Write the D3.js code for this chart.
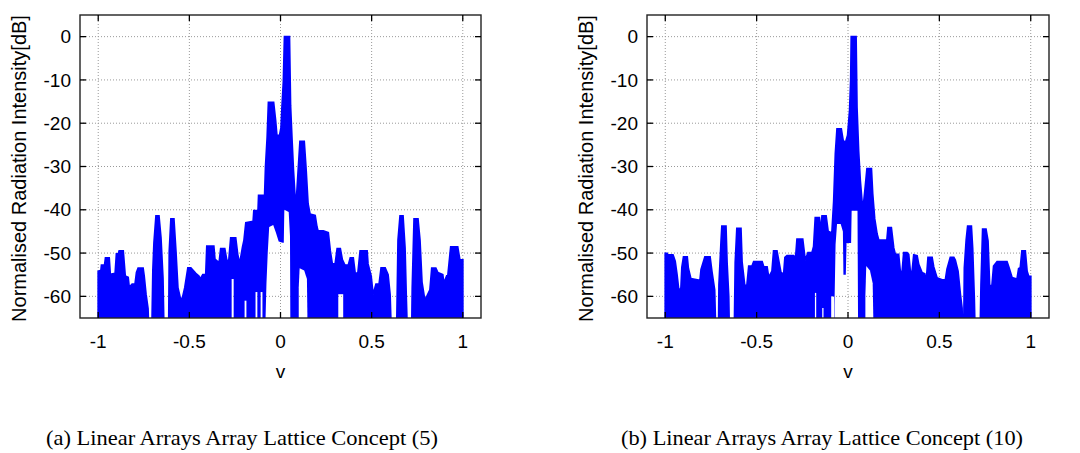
<!DOCTYPE html>
<html>
<head>
<meta charset="utf-8">
<script src="https://cdn.jsdelivr.net/npm/d3@7"></script>
<style>
  html, body { margin: 0; padding: 0; background: #fff; }
  svg { display: block; }
</style>
</head>
<body>
<div id="chart"></div>
<script>
// tick values shared by both panels
const xTicks = [-1, -0.5, 0, 0.5, 1];
const yTicks = [0, -10, -20, -30, -40, -50, -60];

// (a) concept (5): upper edge of the trace, v -> dB
const leftV = [-1.000, -0.985, -0.982, -0.965, -0.960, -0.940, -0.934, -0.907, -0.900, -0.890,
  -0.885, -0.863, -0.852, -0.836, -0.830, -0.814, -0.798, -0.790, -0.781, -0.754,
  -0.748, -0.738, -0.727, -0.720, -0.707, -0.700, -0.694, -0.683, -0.667, -0.656,
  -0.645, -0.638, -0.614, -0.610, -0.601, -0.585, -0.574, -0.563, -0.546, -0.536,
  -0.525, -0.508, -0.492, -0.475, -0.465, -0.448, -0.440, -0.426, -0.410, -0.404,
  -0.366, -0.360, -0.344, -0.336, -0.328, -0.306, -0.295, -0.284, -0.273, -0.246,
  -0.235, -0.224, -0.208, -0.200, -0.190, -0.150, -0.146, -0.123, -0.120, -0.087,
  -0.082, -0.073, -0.066, -0.038, -0.027, -0.020, -0.005, 0.003, 0.008, 0.016,
  0.022, 0.049, 0.055, 0.063, 0.071, 0.080, 0.088, 0.097, 0.107, 0.130,
  0.140, 0.151, 0.162, 0.190, 0.200, 0.206, 0.235, 0.262, 0.273, 0.284,
  0.300, 0.311, 0.328, 0.339, 0.350, 0.355, 0.372, 0.383, 0.399, 0.410,
  0.425, 0.437, 0.475, 0.480, 0.497, 0.508, 0.524, 0.541, 0.552, 0.574,
  0.590, 0.601, 0.610, 0.636, 0.640, 0.645, 0.656, 0.672, 0.683, 0.690,
  0.698, 0.719, 0.723, 0.733, 0.754, 0.765, 0.776, 0.792, 0.803, 0.820,
  0.830, 0.852, 0.863, 0.890, 0.896, 0.912, 0.918, 0.934, 0.972, 0.984,
  0.998, 1.000];
const leftPeak = [-54.2, -54, -52.8, -52.8, -51.1, -51.1, -54.9, -54.7, -50.2, -50.2,
  -49.5, -49.5, -55.3, -55.6, -57.9, -57.2, -57.2, -54.5, -53.5, -53.5,
  -55.3, -59.5, -62.8, -72, -72, -54, -47.6, -41.4, -41.4, -46.5,
  -55.8, -72, -72, -49.5, -42.1, -42.1, -49.5, -58, -61.1, -60,
  -58, -53.4, -53.4, -54.2, -54.7, -55.3, -56, -55, -55, -48.4,
  -48.4, -51.4, -52, -52, -49, -49, -51.6, -52, -46.5, -46.5,
  -50.3, -52.5, -48.6, -47, -43, -42.7, -40.2, -40.2, -36.7, -36.7,
  -30, -23.3, -15.2, -15.2, -19.4, -22.8, -22.8, -21, -16.5, -10.3,
  0, 0, -16, -23.8, -31, -37.2, -37.2, -31, -24.2, -24.2,
  -30.5, -38.6, -41, -41.3, -44, -44.9, -44.9, -45.3, -49.5, -52.5,
  -52.5, -49, -49, -51.5, -52.5, -52.8, -52.8, -51.1, -51.1, -54.8,
  -54.5, -49.5, -49.5, -52.5, -55.3, -59.6, -57.2, -57.2, -53.4, -53.4,
  -55, -59.6, -72, -72, -61, -47, -41.4, -41.4, -48.8, -60.4,
  -72, -72, -58, -42.1, -42.1, -47, -56.7, -61, -60, -58.5,
  -53.5, -53.5, -54.5, -55, -57, -55.3, -55.3, -48.6, -48.6, -51.6,
  -51.6, -51.6];
// white gaps inside the filled trace: [v, top dB, bottom dB]
const leftHoles = [
  [[-0.268, -56, -70], [-0.257, -56, -70]],
  [[-0.197, -61, -70], [-0.187, -61, -70]],
  [[-0.137, -59, -70], [-0.127, -59, -70]],
  [[-0.109, -59, -70], [-0.099, -59, -70]],
  [[-0.082, -65, -70], [-0.077, -57, -70], [-0.070, -50, -70], [-0.062, -44, -70], [-0.040, -43.5, -70],
   [-0.025, -45.3, -70], [-0.010, -47.3, -70], [0.012, -47.6, -70], [0.018, -47.6, -70], [0.021, -40, -70],
   [0.045, -40.5, -70], [0.052, -46, -70], [0.054, -66, -70]],
  [[0.100, -58, -70], [0.105, -53.5, -70], [0.130, -54, -70], [0.145, -56, -70], [0.148, -66, -70]],
  [[0.317, -59.5, -70], [0.344, -59.5, -70]]
];

// (b) concept (10)
const rightV = [-1.000, -0.990, -0.985, -0.980, -0.958, -0.946, -0.936, -0.925, -0.914, -0.909,
  -0.900, -0.880, -0.874, -0.860, -0.810, -0.804, -0.783, -0.755, -0.745, -0.730,
  -0.722, -0.709, -0.706, -0.695, -0.690, -0.668, -0.662, -0.653, -0.648, -0.623,
  -0.617, -0.608, -0.586, -0.580, -0.565, -0.553, -0.543, -0.525, -0.516, -0.470,
  -0.461, -0.443, -0.434, -0.416, -0.407, -0.389, -0.379, -0.367, -0.352, -0.345,
  -0.334, -0.297, -0.288, -0.279, -0.248, -0.234, -0.219, -0.197, -0.188, -0.179,
  -0.157, -0.152, -0.142, -0.120, -0.109, -0.088, -0.078, -0.069, -0.060, -0.037,
  -0.027, -0.015, -0.002, 0.009, 0.015, 0.018, 0.044, 0.049, 0.058, 0.067,
  0.077, 0.086, 0.095, 0.104, 0.128, 0.135, 0.146, 0.159, 0.168, 0.213,
  0.219, 0.237, 0.250, 0.259, 0.277, 0.286, 0.296, 0.305, 0.323, 0.332,
  0.341, 0.350, 0.360, 0.378, 0.387, 0.405, 0.420, 0.427, 0.438, 0.460,
  0.469, 0.487, 0.515, 0.533, 0.542, 0.560, 0.579, 0.587, 0.602, 0.615,
  0.624, 0.629, 0.633, 0.637, 0.647, 0.655, 0.675, 0.682, 0.691, 0.697,
  0.722, 0.728, 0.737, 0.755, 0.766, 0.775, 0.788, 0.797, 0.816, 0.870,
  0.880, 0.898, 0.925, 0.934, 0.943, 0.952, 0.970, 0.980, 0.989, 1.000];
const rightPeak = [-50.1, -50.1, -54.2, -50.4, -50.4, -51.9, -54.9, -59, -58, -53.3,
  -50.9, -50.9, -53.5, -55.9, -56.3, -53.8, -50.9, -50.9, -54.2, -58.5,
  -72, -72, -57.4, -47.6, -43.8, -43.8, -52.2, -59.9, -72, -72,
  -52.2, -44.3, -44.3, -52, -57.6, -57.4, -53, -53, -52, -52,
  -53.2, -53.2, -55.6, -54.2, -49.5, -49.5, -51.8, -54.5, -54.9, -51,
  -50.6, -50.6, -51.8, -46.8, -46.8, -51.7, -49.9, -49.9, -48.5, -41.8,
  -41.8, -45.3, -41.4, -41.4, -45, -45.4, -37.9, -27, -21.3, -21.3,
  -23.9, -24.7, -22.8, -17, -10, 0, 0, -16.3, -26.4, -33.2,
  -38.3, -38.3, -34.5, -30.5, -30.5, -36.3, -42.1, -45.6, -47, -47,
  -44.1, -44.1, -48.8, -50.3, -50.3, -54.2, -54.5, -49.9, -49.9, -50.3,
  -54.2, -54.6, -50.4, -50.6, -52.6, -54.5, -54.8, -57.4, -51, -51,
  -53.2, -55.7, -56.2, -56.2, -53.7, -51, -51, -51.6, -54.2, -59.6,
  -62.7, -72, -72, -53.4, -47, -43.8, -43.8, -48.9, -60.5, -72,
  -72, -57.4, -44.5, -44.5, -47.2, -57.5, -57.5, -53, -52, -52,
  -53.2, -55.7, -56, -53.6, -53.4, -49.5, -49.5, -54.2, -55.4, -55.4];
const rightHoles = [
  [[-0.181, -59.2, -70], [-0.174, -59.2, -70]],
  [[-0.141, -62.7, -70], [-0.134, -62.7, -70]],
  [[-0.092, -60, -70], [-0.076, -60, -70]],
  [[-0.074, -62, -70], [-0.068, -48, -70], [-0.060, -43.3, -70], [-0.040, -43.3, -70], [-0.028, -45, -70],
   [-0.025, -55, -70], [-0.012, -55, -70], [-0.008, -47.7, -70], [0.012, -47.7, -70], [0.017, -47.7, -70],
   [0.020, -40.2, -70], [0.052, -40.2, -70], [0.055, -66, -70]],
  [[0.095, -60, -70], [0.100, -53, -70], [0.120, -54, -70], [0.135, -57, -70], [0.139, -66, -70]]
];

const captions = ["(a) Linear Arrays Array Lattice Concept (5)", "(b) Linear Arrays Array Lattice Concept (10)"];
const yTitle = "Normalised Radiation Intensity[dB]";
const xTitle = "v";

const W = 1080, H = 453;
const svg = d3.select("#chart").append("svg")
  .attr("width", W).attr("height", H);

const panels = [
  { id: "a", left: 80, right: 481, vs: leftV, peaks: leftPeak, holes: leftHoles, caption: captions[0], capX: 242, capW: 392 },
  { id: "b", left: 647, right: 1049, vs: rightV, peaks: rightPeak, holes: rightHoles, caption: captions[1], capX: 822, capW: 402 }
];
const plotTop = 15, plotBottom = 318;
const tickFont = "'Liberation Sans', Arial, Helvetica, sans-serif";

panels.forEach(p => {
  const x = d3.scaleLinear().domain([-1.1, 1.1]).range([p.left, p.right]);
  const y = d3.scaleLinear().domain([-65, 5]).range([plotBottom, plotTop]);
  const g = svg.append("g");

  // dotted grid
  g.selectAll(".gx").data(xTicks).enter().append("line")
    .attr("x1", d => x(d)).attr("x2", d => x(d))
    .attr("y1", plotTop).attr("y2", plotBottom)
    .attr("stroke", "#999").attr("stroke-width", 1).attr("stroke-dasharray", "1,2");
  g.selectAll(".gy").data(yTicks).enter().append("line")
    .attr("x1", p.left).attr("x2", p.right)
    .attr("y1", d => y(d)).attr("y2", d => y(d))
    .attr("stroke", "#999").attr("stroke-width", 1).attr("stroke-dasharray", "1,2");

  // clip + mask for the trace
  const defs = svg.append("defs");
  defs.append("clipPath").attr("id", "clip-" + p.id).append("rect")
    .attr("x", p.left).attr("y", plotTop).attr("width", p.right - p.left).attr("height", plotBottom - plotTop);
  const mask = defs.append("mask").attr("id", "mask-" + p.id)
    .attr("maskUnits", "userSpaceOnUse")
    .attr("x", 0).attr("y", 0).attr("width", W).attr("height", H);
  mask.append("rect").attr("x", 0).attr("y", 0).attr("width", W).attr("height", H).attr("fill", "#fff");
  const holeArea = d3.area()
    .x(d => x(d[0])).y0(d => y(d[2])).y1(d => y(d[1]));
  mask.selectAll("path").data(p.holes).enter().append("path")
    .attr("d", holeArea).attr("fill", "#000");

  const data = p.vs.map((v, i) => [v, p.peaks[i]]);
  const area = d3.area()
    .x(d => x(d[0])).y0(y(-72)).y1(d => y(d[1]));

  g.append("g").attr("clip-path", `url(#clip-${p.id})`)
    .append("g").attr("mask", `url(#mask-${p.id})`)
    .append("path").datum(data)
    .attr("d", area)
    .attr("fill", "#0000ff")
    .attr("stroke", "#0000ff").attr("stroke-width", 1.8)
    .attr("stroke-linejoin", "miter");

  // frame
  g.append("rect")
    .attr("x", p.left).attr("y", plotTop).attr("width", p.right - p.left).attr("height", plotBottom - plotTop)
    .attr("fill", "none").attr("stroke", "#222").attr("stroke-width", 1.4);

  // inward ticks on all four sides
  const tl = 6;
  xTicks.forEach(t => {
    g.append("line").attr("x1", x(t)).attr("x2", x(t)).attr("y1", plotBottom).attr("y2", plotBottom - tl)
      .attr("stroke", "#000").attr("stroke-width", 1.3);
    g.append("line").attr("x1", x(t)).attr("x2", x(t)).attr("y1", plotTop).attr("y2", plotTop + tl)
      .attr("stroke", "#000").attr("stroke-width", 1.3);
  });
  yTicks.forEach(t => {
    g.append("line").attr("x1", p.left).attr("x2", p.left + tl).attr("y1", y(t)).attr("y2", y(t))
      .attr("stroke", "#000").attr("stroke-width", 1.3);
    g.append("line").attr("x1", p.right).attr("x2", p.right - tl).attr("y1", y(t)).attr("y2", y(t))
      .attr("stroke", "#000").attr("stroke-width", 1.3);
  });

  // tick labels (plain hyphen minus, as in the original)
  g.selectAll(".xl").data(xTicks).enter().append("text")
    .attr("x", d => x(d)).attr("y", 348)
    .attr("text-anchor", "middle")
    .attr("font-family", tickFont).attr("font-size", 19)
    .text(d => String(d));
  g.selectAll(".yl").data(yTicks).enter().append("text")
    .attr("x", p.left - 9).attr("y", d => y(d)).attr("dy", "0.35em")
    .attr("text-anchor", "end")
    .attr("font-family", tickFont).attr("font-size", 19)
    .text(d => String(d));

  // axis titles
  g.append("text")
    .attr("x", x(0)).attr("y", 378)
    .attr("text-anchor", "middle")
    .attr("font-family", tickFont).attr("font-size", 19)
    .text(xTitle);
  g.append("text")
    .attr("transform", `translate(${p.left - 54},${(plotTop + plotBottom) / 2 + 2}) rotate(-90)`)
    .attr("text-anchor", "middle")
    .attr("font-family", tickFont).attr("font-size", 20)
    .text(yTitle);

  // sub-figure caption
  svg.append("text")
    .attr("x", p.capX).attr("y", 445)
    .attr("text-anchor", "middle")
    .attr("font-family", "'Liberation Serif', 'DejaVu Serif', serif")
    .attr("font-size", 21)
    .attr("textLength", p.capW).attr("lengthAdjust", "spacingAndGlyphs")
    .text(p.caption);
});
</script>
</body>
</html>
